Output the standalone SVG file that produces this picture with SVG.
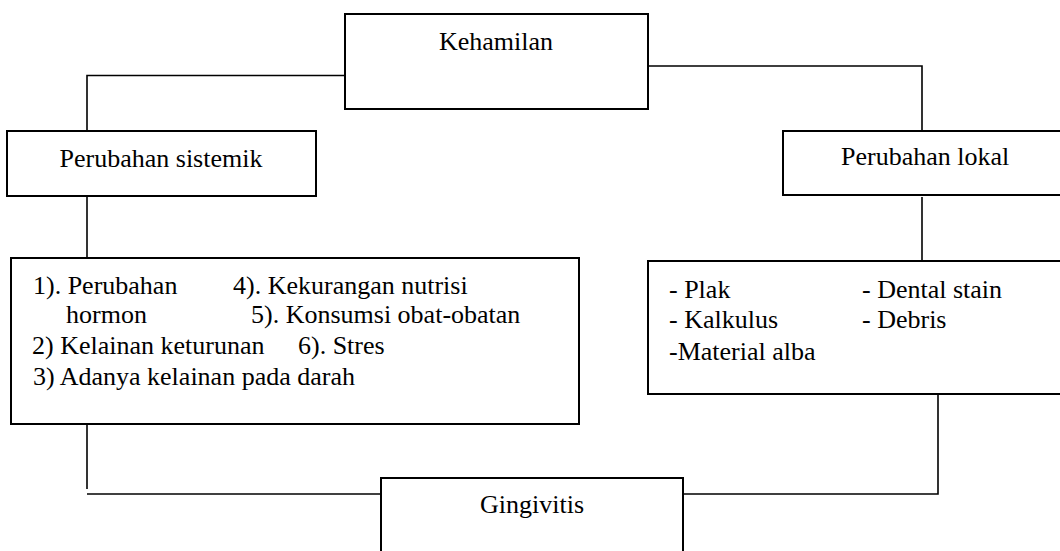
<svg xmlns="http://www.w3.org/2000/svg" width="1060" height="551" viewBox="0 0 1060 551">
<style>
  .box { fill: #ffffff; stroke: #000000; stroke-width: 2; }
  .conn { fill: none; stroke: #000000; stroke-width: 1.6; }
  .t { font-family: 'Liberation Serif', 'Times New Roman', Tinos, 'DejaVu Serif', serif; font-size: 26px; fill: #000000; }
  .c { text-anchor: middle; }
</style>
<rect width="1060" height="551" fill="#ffffff"/>
<g id="connectors">
  <polyline class="conn" points="345,75.5 87,75.5 87,131"/>
  <polyline class="conn" points="648,66 922,66 922,131"/>
  <line class="conn" x1="87" y1="197" x2="87" y2="258"/>
  <line class="conn" x1="922" y1="197" x2="922" y2="261"/>
  <line class="conn" x1="87" y1="424" x2="87" y2="489"/>
  <line class="conn" x1="87" y1="494" x2="381" y2="494"/>
  <polyline class="conn" points="683,494 938,494 938,394"/>
</g>
<g id="kehamilan">
  <rect class="box" x="345" y="14" width="303" height="95"/>
  <text class="t c" x="496" y="50" font-family="Liberation Serif, serif">Kehamilan</text>
</g>
<g id="perubahan-sistemik">
  <rect class="box" x="7" y="131" width="309" height="65"/>
  <text class="t c" x="161" y="167" font-family="Liberation Serif, serif">Perubahan sistemik</text>
</g>
<g id="perubahan-lokal">
  <rect class="box" x="783" y="131" width="290" height="64"/>
  <text class="t" x="841" y="165" font-family="Liberation Serif, serif">Perubahan lokal</text>
</g>
<g id="faktor-sistemik" font-family="Liberation Serif, serif">
  <rect class="box" x="11" y="258" width="568" height="166"/>
  <text class="t" x="33" y="294">1). Perubahan</text>
  <text class="t" x="233" y="294">4). Kekurangan nutrisi</text>
  <text class="t" x="66" y="323">hormon</text>
  <text class="t" x="251" y="323">5). Konsumsi obat-obatan</text>
  <text class="t" x="32" y="354">2) Kelainan keturunan</text>
  <text class="t" x="298" y="354">6). Stres</text>
  <text class="t" x="33" y="385">3) Adanya kelainan pada darah</text>
</g>
<g id="faktor-lokal" font-family="Liberation Serif, serif">
  <rect class="box" x="648" y="261" width="425" height="133"/>
  <text class="t" x="669" y="298">- Plak</text>
  <text class="t" x="862" y="298">- Dental stain</text>
  <text class="t" x="669" y="328">- Kalkulus</text>
  <text class="t" x="862" y="328">- Debris</text>
  <text class="t" x="669" y="360">-Material alba</text>
</g>
<g id="gingivitis">
  <rect class="box" x="381" y="478" width="302" height="90"/>
  <text class="t c" x="532" y="513" font-family="Liberation Serif, serif">Gingivitis</text>
</g>
</svg>
